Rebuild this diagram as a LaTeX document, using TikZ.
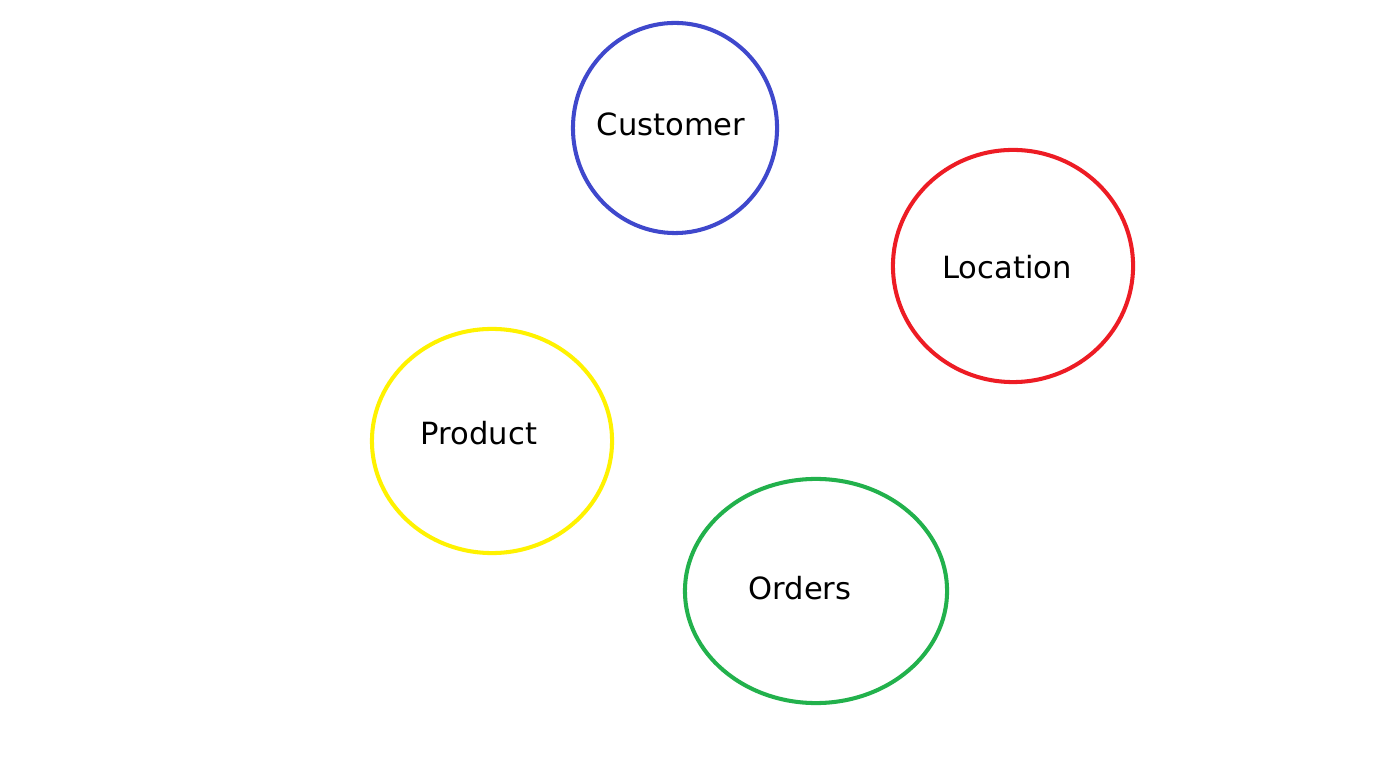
\documentclass[tikz,border=0pt]{standalone}
\usepackage{fontspec}
\setmainfont{DejaVu Sans}
\usetikzlibrary{shapes.geometric}
\definecolor{paintblue}{RGB}{63,72,204}
\definecolor{paintred}{RGB}{237,28,36}
\definecolor{paintyellow}{RGB}{255,242,0}
\definecolor{paintgreen}{RGB}{34,177,76}
\tikzstyle{entity}=[draw,shape=ellipse,line width=1.15pt,inner sep=0pt]
\tikzstyle{entitytext}=[font=\fontsize{8.7}{11}\selectfont,inner sep=0pt]

\begin{document}
\begin{tikzpicture}[x=0.01cm,y=-0.01cm]
\useasboundingbox (0,0) rectangle (1374,777);
\node[entity,paintblue,  minimum width=2.04cm,minimum height=2.10cm] at ( 675,128) (customer) {};
\node[entity,paintred,   minimum width=2.40cm,minimum height=2.32cm] at (1013,266) (location) {};
\node[entity,paintyellow,minimum width=2.40cm,minimum height=2.24cm] at ( 492,441) (product)  {};
\node[entity,paintgreen, minimum width=2.62cm,minimum height=2.24cm] at ( 816,591) (orders)   {};
\node[entitytext] at ( 671,124) (customer-t) {Customer};
\node[entitytext] at (1007,267) (location-t) {Location};
\node[entitytext] at ( 479,433) (product-t)  {Product};
\node[entitytext] at ( 800,588) (orders-t)   {Orders};
\end{tikzpicture}
\end{document}
